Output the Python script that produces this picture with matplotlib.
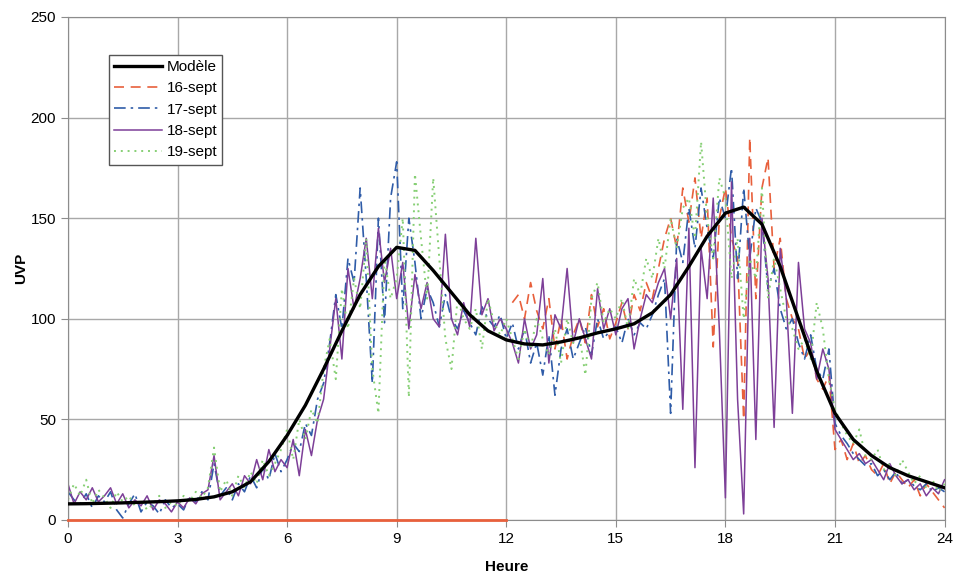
import matplotlib.pyplot as plt
import numpy as np

plt.rcParams['font.family'] = ['Liberation Sans', 'DejaVu Sans']

# model curve, every 30 min
model_t = np.arange(0, 24.01, 0.5)
model = [8, 8.1, 8.3, 8.5, 8.8, 9.1, 9.5, 10.2, 11.5, 14, 19, 29,
         42, 57, 75, 94, 112, 126,
         135.5, 134, 124, 113, 102, 94, 89.5, 87.5, 87, 88.5, 90.5, 93,
         95, 97.5, 103, 112, 126, 141, 152.5, 155.5, 147, 126, 100, 74,
         53, 40, 32, 26, 22, 19, 16]

# observed counts, every 10 min (one row = one hour)
t = np.arange(0, 24.01, 1 / 6)

sept16 = [0] * 73 + [
    108, 112, 100, 118, 104,
    95, 110, 85, 100, 80, 92,
    100, 88, 112, 96, 105, 90,
    98, 108, 95, 112, 104, 118,
    110, 125, 140, 150, 135, 165,
    148, 170, 140, 160, 86, 150,
    165, 140, 130, 50, 190, 110,
    165, 180, 125, 140, 110, 100,
    95, 80, 85, 70, 65, 72,
    35, 40, 30, 38, 28, 32,
    25, 22, 28, 18, 24, 20,
    16, 20, 12, 18, 14, 10,
    6]

sept17 = [
    14, 10, 8, 13, 6, 12,
    9, 14, 5, 1, 8, 13,
    4, 9, 7, 3, 10, 6,
    8, 5, 12, 9, 14, 10,
    28, 12, 16, 10, 18, 14,
    22, 16, 26, 20, 33, 24,
    30, 38, 34, 48, 42, 60,
    68, 88, 112, 95, 130, 118,
    165, 120, 68, 150, 98, 160,
    178, 105, 150, 128, 100, 115,
    108, 96, 112, 100, 95, 104,
    98, 92, 106, 100, 96, 102,
    90, 98, 85, 95, 78, 88,
    72, 92, 62, 85, 95, 80,
    88, 96, 82, 100, 90, 94,
    96, 88, 100, 92, 98, 95,
    102, 112, 120, 53, 140, 128,
    155, 135, 165, 145, 130, 160,
    150, 175, 120, 165, 130, 155,
    148, 115, 125, 105, 95, 100,
    88, 80, 92, 75, 70, 85,
    48, 42, 38, 33, 30, 27,
    28, 22, 25, 20, 24, 18,
    20, 17, 15, 18, 14, 16,
    14]

sept18 = [
    18, 8, 14, 10, 16, 9,
    12, 16, 8, 13, 6, 10,
    7, 12, 5, 10, 8, 4,
    9, 6, 11, 8, 13, 15,
    32, 10, 14, 18, 12, 22,
    18, 30, 20, 35, 24, 30,
    26, 40, 22, 45, 32, 50,
    60, 85, 110, 80, 125, 105,
    120, 140, 110, 145, 118, 135,
    110, 128, 95, 122, 105, 118,
    100, 96, 142, 100, 92, 108,
    96, 140, 102, 110, 94, 100,
    95, 88, 78, 100, 85, 92,
    120, 78, 102, 95, 125, 88,
    100, 90, 80, 115, 95, 105,
    92, 105, 110, 85, 100, 112,
    108, 118, 125, 100, 130, 55,
    145, 26, 135, 110, 160, 95,
    11, 168, 60, 3, 140, 40,
    150, 120, 46, 135, 110, 53,
    128, 95, 88, 70, 85, 75,
    45, 40, 35, 30, 33, 28,
    30, 25, 20, 28, 22, 18,
    20, 15, 18, 12, 16, 13,
    20]

sept19 = [
    10, 18, 12, 20, 8, 15,
    11, 6, 14, 9, 12, 7,
    10, 5, 8, 12, 6, 9,
    7, 12, 9, 14, 11, 16,
    36, 14, 20, 12, 22, 16,
    24, 18, 30, 22, 28, 35,
    45, 30, 50, 40, 55, 48,
    75, 90, 70, 115, 95, 120,
    105, 140, 75, 53, 130, 110,
    120, 150, 61, 172, 140, 110,
    170, 130, 90, 75, 110, 100,
    95, 105, 85, 110, 98, 92,
    100, 90, 80, 95, 85, 100,
    90, 82, 95, 78, 100, 88,
    92, 72, 110, 118, 98, 105,
    100, 110, 95, 120, 112, 130,
    120, 140, 125, 150, 135, 155,
    160, 140, 188, 150, 130, 170,
    160, 120, 140, 100, 130, 120,
    165, 110, 130, 115, 100, 95,
    85, 90, 80, 108, 95, 70,
    55, 48, 42, 38, 45, 32,
    30, 35, 25, 28, 22, 30,
    24, 18, 22, 16, 20, 14,
    18]

c16, c17, c18, c19 = '#e8603c', '#2f5ca8', '#7d3f98', '#86cf74'

fig = plt.figure(figsize=(9.57, 5.75), dpi=100)
ax = fig.add_axes([0.071, 0.0957, 0.916, 0.8748])

# missing data on 16-sept is drawn at zero until noon
ax.plot(t[:73], sept16[:73], color=c16, lw=2, zorder=6, clip_on=False)
ax.plot(t[73:], sept16[73:], color=c16, lw=1.2, ls=(0, (6, 4)), label='16-sept', zorder=2)
ax.plot(t, sept17, color=c17, lw=1.2, ls=(0, (7, 3, 1.5, 3)), label='17-sept', zorder=2)
ax.plot(t, sept18, color=c18, lw=1.1, label='18-sept', zorder=2)
ax.plot(t, sept19, color=c19, lw=1.4, ls=(0, (1, 2.5)), label='19-sept', zorder=2)
ax.plot(model_t, model, color='black', lw=2.4, label='Modèle', zorder=4)

ax.set_xlim(0, 24)
ax.set_ylim(0, 250)
ax.set_xticks(range(0, 25, 3))
ax.set_yticks(range(0, 251, 50))
ax.grid(True, color='#a8a8a8', lw=1)
ax.set_axisbelow(True)
for s in ax.spines.values():
    s.set_color('#8c8c8c')
ax.tick_params(colors='#8c8c8c', labelcolor='black', labelsize=11, length=5)
ax.set_xlabel('Heure', fontweight='bold', fontsize=11, labelpad=10)
ax.set_ylabel('UVP', fontweight='bold', fontsize=11, labelpad=2)

h, l = ax.get_legend_handles_labels()
order = [4, 0, 1, 2, 3]
leg = ax.legend([h[i] for i in order], [l[i] for i in order], loc='upper left',
                bbox_to_anchor=(0.047, 0.925), fontsize=11, handlelength=3.1,
                fancybox=False, edgecolor='#555555', framealpha=1,
                borderpad=0.35, labelspacing=0.48, handletextpad=0.3,
                borderaxespad=0)
leg.get_frame().set_linewidth(1)

plt.savefig('out.png', dpi=100)
